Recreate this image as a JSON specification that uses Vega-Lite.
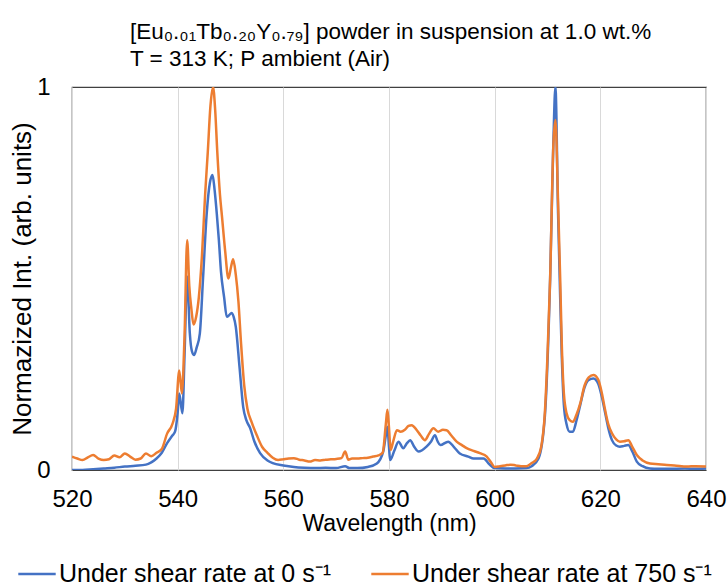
{
  "$schema": "https://vega.github.io/schema/vega-lite/v6.json",
  "autosize": {"type": "none"},
  "padding": {"left": 72, "top": 87, "right": 22, "bottom": 118},
  "width": 634,
  "height": 383,
  "background": "white",
  "config": {
    "font": "Liberation Sans",
    "view": {"stroke": "#404040", "strokeWidth": 1.2},
    "axis": {"labelFontSize": 24, "titleFontSize": 23, "labelColor": "#000", "titleColor": "#000", "titleFontWeight": "normal", "ticks": false, "domain": false}
  },
  "title": {
    "text": ["[Eu₀.₀₁Tb₀.₂₀Y₀.₇₉] powder in suspension at 1.0 wt.%", "T = 313 K; P ambient (Air)"],
    "fontSize": 22.5,
    "fontWeight": "normal",
    "color": "#000",
    "anchor": "start",
    "frame": "group",
    "dx": 58,
    "offset": 5,
    "lineHeight": 27
  },
  "data": {
    "values": [
      {"s": 0, "wl": 520, "I": 0.0},
      {"s": 0, "wl": 522, "I": 0.0},
      {"s": 0, "wl": 524, "I": 0.002},
      {"s": 0, "wl": 526, "I": 0.004},
      {"s": 0, "wl": 528, "I": 0.006},
      {"s": 0, "wl": 530, "I": 0.009},
      {"s": 0, "wl": 532, "I": 0.011},
      {"s": 0, "wl": 534, "I": 0.014},
      {"s": 0, "wl": 535, "I": 0.02},
      {"s": 0, "wl": 536, "I": 0.03},
      {"s": 0, "wl": 537, "I": 0.045},
      {"s": 0, "wl": 538, "I": 0.07},
      {"s": 0, "wl": 539, "I": 0.09},
      {"s": 0, "wl": 539.5, "I": 0.1},
      {"s": 0, "wl": 540, "I": 0.15},
      {"s": 0, "wl": 540.3, "I": 0.2},
      {"s": 0, "wl": 540.9, "I": 0.148},
      {"s": 0, "wl": 541.3, "I": 0.3},
      {"s": 0, "wl": 541.8, "I": 0.505},
      {"s": 0, "wl": 542.3, "I": 0.357},
      {"s": 0, "wl": 542.7, "I": 0.31},
      {"s": 0, "wl": 543.1, "I": 0.3},
      {"s": 0, "wl": 543.6, "I": 0.32},
      {"s": 0, "wl": 544.2, "I": 0.357},
      {"s": 0, "wl": 544.8, "I": 0.5},
      {"s": 0, "wl": 545.5, "I": 0.67},
      {"s": 0, "wl": 546.1, "I": 0.75},
      {"s": 0, "wl": 546.6, "I": 0.77},
      {"s": 0, "wl": 547.0, "I": 0.73},
      {"s": 0, "wl": 547.4, "I": 0.67},
      {"s": 0, "wl": 547.8, "I": 0.6},
      {"s": 0, "wl": 548.2, "I": 0.518},
      {"s": 0, "wl": 548.8, "I": 0.45},
      {"s": 0, "wl": 549.3, "I": 0.4},
      {"s": 0, "wl": 549.8, "I": 0.405},
      {"s": 0, "wl": 550.2, "I": 0.41},
      {"s": 0, "wl": 550.6, "I": 0.4},
      {"s": 0, "wl": 551.0, "I": 0.374},
      {"s": 0, "wl": 551.7, "I": 0.27},
      {"s": 0, "wl": 552.4, "I": 0.165},
      {"s": 0, "wl": 553.0, "I": 0.13},
      {"s": 0, "wl": 553.7, "I": 0.11},
      {"s": 0, "wl": 554.5, "I": 0.075},
      {"s": 0, "wl": 555.6, "I": 0.044},
      {"s": 0, "wl": 557, "I": 0.025},
      {"s": 0, "wl": 558, "I": 0.018},
      {"s": 0, "wl": 560, "I": 0.012},
      {"s": 0, "wl": 562, "I": 0.008},
      {"s": 0, "wl": 564, "I": 0.006},
      {"s": 0, "wl": 566, "I": 0.005},
      {"s": 0, "wl": 568, "I": 0.006},
      {"s": 0, "wl": 570, "I": 0.005},
      {"s": 0, "wl": 571.7, "I": 0.01},
      {"s": 0, "wl": 572.5, "I": 0.005},
      {"s": 0, "wl": 574, "I": 0.005},
      {"s": 0, "wl": 576, "I": 0.008},
      {"s": 0, "wl": 577.7, "I": 0.017},
      {"s": 0, "wl": 578.9, "I": 0.048},
      {"s": 0, "wl": 579.4, "I": 0.09},
      {"s": 0, "wl": 579.7, "I": 0.113},
      {"s": 0, "wl": 580.0, "I": 0.06},
      {"s": 0, "wl": 580.2, "I": 0.026},
      {"s": 0, "wl": 581.0, "I": 0.05},
      {"s": 0, "wl": 581.8, "I": 0.074},
      {"s": 0, "wl": 582.7, "I": 0.057},
      {"s": 0, "wl": 583.4, "I": 0.07},
      {"s": 0, "wl": 584.0, "I": 0.078},
      {"s": 0, "wl": 584.8, "I": 0.06},
      {"s": 0, "wl": 585.6, "I": 0.048},
      {"s": 0, "wl": 587.1, "I": 0.061},
      {"s": 0, "wl": 588.0, "I": 0.075},
      {"s": 0, "wl": 588.7, "I": 0.091},
      {"s": 0, "wl": 589.2, "I": 0.075},
      {"s": 0, "wl": 589.7, "I": 0.065},
      {"s": 0, "wl": 591.2, "I": 0.074},
      {"s": 0, "wl": 592.3, "I": 0.06},
      {"s": 0, "wl": 593.4, "I": 0.043},
      {"s": 0, "wl": 595, "I": 0.035},
      {"s": 0, "wl": 596, "I": 0.03},
      {"s": 0, "wl": 597.9, "I": 0.03},
      {"s": 0, "wl": 599, "I": 0.015},
      {"s": 0, "wl": 600, "I": 0.005},
      {"s": 0, "wl": 602, "I": 0.004},
      {"s": 0, "wl": 604, "I": 0.004},
      {"s": 0, "wl": 606, "I": 0.005},
      {"s": 0, "wl": 607, "I": 0.01},
      {"s": 0, "wl": 608.3, "I": 0.03},
      {"s": 0, "wl": 609.5, "I": 0.14},
      {"s": 0, "wl": 610.5, "I": 0.5},
      {"s": 0, "wl": 611.1, "I": 0.85},
      {"s": 0, "wl": 611.5, "I": 1.0},
      {"s": 0, "wl": 612.0, "I": 0.67},
      {"s": 0, "wl": 612.4, "I": 0.45},
      {"s": 0, "wl": 612.7, "I": 0.3},
      {"s": 0, "wl": 613.1, "I": 0.17},
      {"s": 0, "wl": 613.6, "I": 0.12},
      {"s": 0, "wl": 614.2, "I": 0.1},
      {"s": 0, "wl": 614.8, "I": 0.1},
      {"s": 0, "wl": 615.5, "I": 0.13},
      {"s": 0, "wl": 616.2, "I": 0.17},
      {"s": 0, "wl": 617.0, "I": 0.215},
      {"s": 0, "wl": 617.8, "I": 0.235},
      {"s": 0, "wl": 618.7, "I": 0.239},
      {"s": 0, "wl": 619.6, "I": 0.225},
      {"s": 0, "wl": 620.3, "I": 0.19},
      {"s": 0, "wl": 620.9, "I": 0.15},
      {"s": 0, "wl": 621.5, "I": 0.11},
      {"s": 0, "wl": 622.2, "I": 0.078},
      {"s": 0, "wl": 623.0, "I": 0.064},
      {"s": 0, "wl": 623.7, "I": 0.061},
      {"s": 0, "wl": 624.5, "I": 0.063},
      {"s": 0, "wl": 625.3, "I": 0.065},
      {"s": 0, "wl": 626.0, "I": 0.05},
      {"s": 0, "wl": 626.9, "I": 0.022},
      {"s": 0, "wl": 628, "I": 0.01},
      {"s": 0, "wl": 629.4, "I": 0.004},
      {"s": 0, "wl": 631, "I": 0.003},
      {"s": 0, "wl": 633, "I": 0.003},
      {"s": 0, "wl": 636, "I": 0.004},
      {"s": 0, "wl": 638, "I": 0.003},
      {"s": 0, "wl": 640, "I": 0.004},

      {"s": 750, "wl": 520, "I": 0.035},
      {"s": 750, "wl": 521, "I": 0.03},
      {"s": 750, "wl": 522, "I": 0.026},
      {"s": 750, "wl": 523, "I": 0.033},
      {"s": 750, "wl": 524, "I": 0.039},
      {"s": 750, "wl": 525, "I": 0.03},
      {"s": 750, "wl": 526, "I": 0.026},
      {"s": 750, "wl": 527, "I": 0.028},
      {"s": 750, "wl": 528, "I": 0.038},
      {"s": 750, "wl": 529, "I": 0.033},
      {"s": 750, "wl": 530, "I": 0.043},
      {"s": 750, "wl": 531, "I": 0.035},
      {"s": 750, "wl": 532, "I": 0.027},
      {"s": 750, "wl": 533, "I": 0.03},
      {"s": 750, "wl": 534, "I": 0.043},
      {"s": 750, "wl": 535, "I": 0.036},
      {"s": 750, "wl": 536, "I": 0.045},
      {"s": 750, "wl": 537, "I": 0.055},
      {"s": 750, "wl": 538, "I": 0.095},
      {"s": 750, "wl": 539, "I": 0.12},
      {"s": 750, "wl": 539.7, "I": 0.16},
      {"s": 750, "wl": 540.3, "I": 0.26},
      {"s": 750, "wl": 540.8, "I": 0.2},
      {"s": 750, "wl": 541.3, "I": 0.35},
      {"s": 750, "wl": 541.8, "I": 0.6},
      {"s": 750, "wl": 542.2, "I": 0.48},
      {"s": 750, "wl": 542.6, "I": 0.42},
      {"s": 750, "wl": 543.0, "I": 0.38},
      {"s": 750, "wl": 543.5, "I": 0.4},
      {"s": 750, "wl": 544.0, "I": 0.45},
      {"s": 750, "wl": 544.6, "I": 0.56},
      {"s": 750, "wl": 545.2, "I": 0.72},
      {"s": 750, "wl": 545.7, "I": 0.83},
      {"s": 750, "wl": 546.2, "I": 0.95},
      {"s": 750, "wl": 546.7, "I": 1.0},
      {"s": 750, "wl": 547.1, "I": 0.94},
      {"s": 750, "wl": 547.5, "I": 0.83},
      {"s": 750, "wl": 548.0, "I": 0.72},
      {"s": 750, "wl": 548.4, "I": 0.66},
      {"s": 750, "wl": 549.0, "I": 0.57},
      {"s": 750, "wl": 549.6, "I": 0.5},
      {"s": 750, "wl": 550.1, "I": 0.53},
      {"s": 750, "wl": 550.5, "I": 0.55},
      {"s": 750, "wl": 551.0, "I": 0.51},
      {"s": 750, "wl": 551.5, "I": 0.44},
      {"s": 750, "wl": 552.0, "I": 0.33},
      {"s": 750, "wl": 552.6, "I": 0.22},
      {"s": 750, "wl": 553.2, "I": 0.16},
      {"s": 750, "wl": 554, "I": 0.125},
      {"s": 750, "wl": 555, "I": 0.09},
      {"s": 750, "wl": 556, "I": 0.06},
      {"s": 750, "wl": 557, "I": 0.045},
      {"s": 750, "wl": 558, "I": 0.032},
      {"s": 750, "wl": 559, "I": 0.026},
      {"s": 750, "wl": 560, "I": 0.028},
      {"s": 750, "wl": 561, "I": 0.03},
      {"s": 750, "wl": 562, "I": 0.031},
      {"s": 750, "wl": 563, "I": 0.027},
      {"s": 750, "wl": 564, "I": 0.025},
      {"s": 750, "wl": 565, "I": 0.022},
      {"s": 750, "wl": 566, "I": 0.026},
      {"s": 750, "wl": 567, "I": 0.025},
      {"s": 750, "wl": 568, "I": 0.027},
      {"s": 750, "wl": 569, "I": 0.028},
      {"s": 750, "wl": 570, "I": 0.029},
      {"s": 750, "wl": 571, "I": 0.031},
      {"s": 750, "wl": 571.7, "I": 0.048},
      {"s": 750, "wl": 572.3, "I": 0.027},
      {"s": 750, "wl": 573, "I": 0.03},
      {"s": 750, "wl": 574, "I": 0.03},
      {"s": 750, "wl": 575, "I": 0.031},
      {"s": 750, "wl": 576, "I": 0.032},
      {"s": 750, "wl": 577, "I": 0.035},
      {"s": 750, "wl": 578, "I": 0.038},
      {"s": 750, "wl": 578.8, "I": 0.045},
      {"s": 750, "wl": 579.4, "I": 0.12},
      {"s": 750, "wl": 579.7, "I": 0.157},
      {"s": 750, "wl": 580.0, "I": 0.11},
      {"s": 750, "wl": 580.3, "I": 0.052},
      {"s": 750, "wl": 580.8, "I": 0.075},
      {"s": 750, "wl": 581.5, "I": 0.104},
      {"s": 750, "wl": 582.2, "I": 0.1},
      {"s": 750, "wl": 583.0, "I": 0.105},
      {"s": 750, "wl": 583.7, "I": 0.115},
      {"s": 750, "wl": 584.3, "I": 0.117},
      {"s": 750, "wl": 585.2, "I": 0.105},
      {"s": 750, "wl": 586.0, "I": 0.09},
      {"s": 750, "wl": 586.8, "I": 0.078},
      {"s": 750, "wl": 587.6, "I": 0.095},
      {"s": 750, "wl": 588.4, "I": 0.109},
      {"s": 750, "wl": 589.3, "I": 0.1},
      {"s": 750, "wl": 590.2, "I": 0.105},
      {"s": 750, "wl": 590.9, "I": 0.104},
      {"s": 750, "wl": 591.8, "I": 0.09},
      {"s": 750, "wl": 592.8, "I": 0.074},
      {"s": 750, "wl": 593.8, "I": 0.065},
      {"s": 750, "wl": 594.7, "I": 0.057},
      {"s": 750, "wl": 596, "I": 0.05},
      {"s": 750, "wl": 597.2, "I": 0.044},
      {"s": 750, "wl": 598.5, "I": 0.035},
      {"s": 750, "wl": 599.3, "I": 0.02},
      {"s": 750, "wl": 600, "I": 0.008},
      {"s": 750, "wl": 601, "I": 0.01},
      {"s": 750, "wl": 602, "I": 0.012},
      {"s": 750, "wl": 603, "I": 0.014},
      {"s": 750, "wl": 604, "I": 0.012},
      {"s": 750, "wl": 605, "I": 0.01},
      {"s": 750, "wl": 606, "I": 0.01},
      {"s": 750, "wl": 607, "I": 0.018},
      {"s": 750, "wl": 608, "I": 0.03},
      {"s": 750, "wl": 608.8, "I": 0.06},
      {"s": 750, "wl": 609.5, "I": 0.15},
      {"s": 750, "wl": 610.0, "I": 0.3},
      {"s": 750, "wl": 610.5, "I": 0.5},
      {"s": 750, "wl": 611.1, "I": 0.845},
      {"s": 750, "wl": 611.5, "I": 0.914},
      {"s": 750, "wl": 612.0, "I": 0.7},
      {"s": 750, "wl": 612.4, "I": 0.5},
      {"s": 750, "wl": 612.7, "I": 0.33},
      {"s": 750, "wl": 613.1, "I": 0.2},
      {"s": 750, "wl": 613.6, "I": 0.149},
      {"s": 750, "wl": 614.2, "I": 0.13},
      {"s": 750, "wl": 614.8, "I": 0.126},
      {"s": 750, "wl": 615.5, "I": 0.145},
      {"s": 750, "wl": 616.2, "I": 0.174},
      {"s": 750, "wl": 617.0, "I": 0.22},
      {"s": 750, "wl": 617.8, "I": 0.242},
      {"s": 750, "wl": 618.7, "I": 0.248},
      {"s": 750, "wl": 619.6, "I": 0.236},
      {"s": 750, "wl": 620.3, "I": 0.2},
      {"s": 750, "wl": 620.9, "I": 0.157},
      {"s": 750, "wl": 621.5, "I": 0.12},
      {"s": 750, "wl": 622.2, "I": 0.096},
      {"s": 750, "wl": 623.0, "I": 0.08},
      {"s": 750, "wl": 623.7, "I": 0.074},
      {"s": 750, "wl": 624.5, "I": 0.075},
      {"s": 750, "wl": 625.3, "I": 0.078},
      {"s": 750, "wl": 626.0, "I": 0.062},
      {"s": 750, "wl": 626.9, "I": 0.039},
      {"s": 750, "wl": 628, "I": 0.025},
      {"s": 750, "wl": 629.4, "I": 0.017},
      {"s": 750, "wl": 631, "I": 0.015},
      {"s": 750, "wl": 632.6, "I": 0.013},
      {"s": 750, "wl": 634, "I": 0.012},
      {"s": 750, "wl": 636.4, "I": 0.009},
      {"s": 750, "wl": 638, "I": 0.01},
      {"s": 750, "wl": 640, "I": 0.009}
    ]
  },
  "mark": {"type": "line", "strokeWidth": 2.5, "interpolate": "monotone", "clip": true},
  "encoding": {
    "x": {
      "field": "wl", "type": "quantitative",
      "scale": {"domain": [520, 640], "nice": false},
      "axis": {"title": "Wavelength (nm)", "values": [520, 540, 560, 580, 600, 620, 640], "grid": true, "gridColor": "#d9d9d9", "gridWidth": 1, "labelPadding": 17, "titlePadding": 1, "labelFlush": false}
    },
    "y": {
      "field": "I", "type": "quantitative",
      "scale": {"domain": [0, 1], "nice": false},
      "axis": {"title": "Normazized Int. (arb. units)", "titleFontSize": 26, "values": [0, 1], "format": "d", "grid": false, "labelPadding": 22, "titlePadding": 1}
    },
    "color": {
      "field": "s", "type": "nominal",
      "scale": {"domain": [0, 750], "range": ["#4472C4", "#ED7D31"]},
      "legend": {
        "title": null,
        "orient": "none",
        "direction": "horizontal",
        "legendX": -55,
        "legendY": 467,
        "labelExpr": "'Under shear rate at ' + datum.label + ' s⁻¹'",
        "labelFontSize": 25,
        "labelColor": "#000",
        "symbolType": "stroke",
        "symbolSize": 1400,
        "symbolStrokeWidth": 2.5,
        "labelOffset": 2,
        "columnPadding": 34,
        "labelLimit": 400
      }
    }
  }
}
